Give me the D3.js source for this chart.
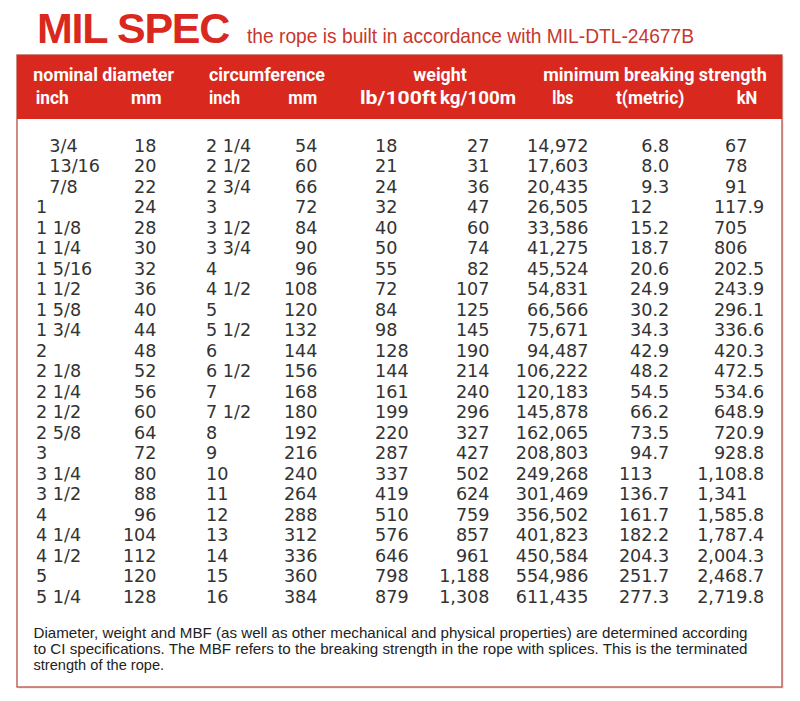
<!DOCTYPE html>
<html>
<head>
<meta charset="utf-8">
<script src="https://cdn.jsdelivr.net/npm/d3@7"></script>
<style>
  html, body { margin: 0; padding: 0; background: #ffffff; }
  svg { display: block; }
</style>
</head>
<body>
<script>
// ---------------- DATA ----------------
const diamInch = ["3/4","13/16","7/8","1","1 1/8","1 1/4","1 5/16","1 1/2","1 5/8","1 3/4","2","2 1/8","2 1/4","2 1/2","2 5/8","3","3 1/4","3 1/2","4","4 1/4","4 1/2","5","5 1/4"];
const diamMm = [18,20,22,24,28,30,32,36,40,44,48,52,56,60,64,72,80,88,96,104,112,120,128];
const circInch = ["2 1/4","2 1/2","2 3/4","3","3 1/2","3 3/4","4","4 1/2","5","5 1/2","6","6 1/2","7","7 1/2","8","9","10","11","12","13","14","15","16"];
const circMm = [54,60,66,72,84,90,96,108,120,132,144,156,168,180,192,216,240,264,288,312,336,360,384];
const weightLb = [18,21,24,32,40,50,55,72,84,98,128,144,161,199,220,287,337,419,510,576,646,798,879];
const weightKg = [27,31,36,47,60,74,82,107,125,145,190,214,240,296,327,427,502,624,759,857,961,1188,1308];
const mbsLbs = [14972,17603,20435,26505,33586,41275,45524,54831,66566,75671,94487,106222,120183,145878,162065,208803,249268,301469,356502,401823,450584,554986,611435];
const mbsT = ["6.8","8.0","9.3","12","15.2","18.7","20.6","24.9","30.2","34.3","42.9","48.2","54.5","66.2","73.5","94.7","113","136.7","161.7","182.2","204.3","251.7","277.3"];
const mbsKn = ["67","78","91","117.9","705","806","202.5","243.9","296.1","336.6","420.3","472.5","534.6","648.9","720.9","928.8","1,108.8","1,341","1,585.8","1,787.4","2,004.3","2,468.7","2,719.8"];

const groupHeaders = ["nominal diameter","circumference","weight","minimum breaking strength"];
const unitHeaders = ["inch","mm","inch","mm","lb/100ft","kg/100m","lbs","t(metric)","kN"];

const titleText = "MIL SPEC";
const subtitleText = "the rope is built in accordance with MIL-DTL-24677B";
const footnoteLines = [
  "Diameter, weight and MBF (as well as other mechanical and physical properties) are determined according",
  "to CI specifications. The MBF refers to the breaking strength in the rope with splices. This is the terminated",
  "strength of the rope."
];

// ---------------- LAYOUT ----------------
const W = 800, H = 701;
const RED = "#d9291f";
const svg = d3.select("body").append("svg").attr("width", W).attr("height", H);

const fmt = d3.format(",");
const rows = d3.range(diamInch.length);
const y = d3.scalePoint().domain(rows).range([151.7, 603]);

// table frame
const box = {x0: 17, x1: 782, y0: 55, yh: 119, y1: 687};
svg.append("rect")
  .attr("x", box.x0 + 1.5).attr("y", box.y0 + 1.5)
  .attr("width", box.x1 - box.x0).attr("height", box.y1 - box.y0)
  .attr("fill", "#e6dcdb");
svg.append("rect")
  .attr("x", box.x0).attr("y", box.y0)
  .attr("width", box.x1 - box.x0).attr("height", box.y1 - box.y0)
  .attr("fill", "#ffffff").attr("stroke", "#bd5a52").attr("stroke-width", 1.4);
svg.append("rect")
  .attr("x", box.x0).attr("y", box.y0)
  .attr("width", box.x1 - box.x0).attr("height", box.yh - box.y0)
  .attr("fill", RED);

// title
svg.append("text")
  .attr("x", 37).attr("y", 43)
  .attr("font-family", "'Liberation Sans', Arial, sans-serif")
  .attr("font-weight", "bold").attr("font-size", 43)
  .attr("letter-spacing", -1.3)
  .attr("fill", RED).text(titleText);
svg.append("text")
  .attr("x", 247).attr("y", 43)
  .attr("font-family", "'Liberation Sans Narrow', 'Liberation Sans', sans-serif")
  .attr("font-size", 21)
  .attr("textLength", 447).attr("lengthAdjust", "spacingAndGlyphs")
  .attr("fill", "#c8372e").text(subtitleText);

// headers
const headFont = "Roboto, 'DejaVu Sans', sans-serif";
const groupX = [33.3, 209, 413.3, 543.3];
const groupW = [140.7, 116, 53.4, 223.4];
svg.selectAll("text.gh").data(groupHeaders).join("text")
  .attr("class", "gh")
  .attr("x", (d, i) => groupX[i]).attr("y", 80.7)
  .attr("font-family", headFont).attr("font-weight", "bold").attr("font-size", 17.5)
  .attr("textLength", (d, i) => groupW[i]).attr("lengthAdjust", "spacingAndGlyphs")
  .attr("fill", "#ffffff").text(d => d);
const unitX = [35.7, 131, 209, 288.3, 360, 440, 552.3, 616, 736.7];
const unitW = [33, 30.7, 31, 29, 76.7, 76, 21, 68.3, 20.6];
svg.selectAll("text.uh").data(unitHeaders).join("text")
  .attr("class", "uh")
  .attr("x", (d, i) => unitX[i]).attr("y", 103.5)
  .attr("font-family", headFont).attr("font-weight", "bold").attr("font-size", 17.5)
  .attr("textLength", (d, i) => unitW[i]).attr("lengthAdjust", "spacingAndGlyphs")
  .attr("fill", "#ffffff").text(d => d);

// body
const body = svg.append("g")
  .attr("font-family", "'DejaVu Sans', Verdana, sans-serif")
  .attr("font-size", 17.6)
  .attr("fill", "#333333");

function col(values, x, anchor, dxFn) {
  body.append("g").selectAll("text").data(values).join("text")
    .attr("x", (d, i) => x + (dxFn ? dxFn(d) : 0))
    .attr("y", (d, i) => y(i))
    .attr("text-anchor", anchor)
    .text(d => d);
}
function decimalCol(values, xDec) {
  const g = body.append("g");
  g.selectAll("text.int").data(values).join("text")
    .attr("class", "int")
    .attr("x", xDec).attr("y", (d, i) => y(i))
    .attr("text-anchor", "end")
    .text(d => d.split(".")[0]);
  g.selectAll("text.frac").data(values.filter(d => d.includes(".")).map(d => d))
    .join("text")
    .attr("class", "frac")
    .attr("x", xDec)
    .attr("y", d => y(values.indexOf(d)))
    .attr("text-anchor", "start")
    .text(d => "." + d.split(".")[1]);
}

col(diamInch, 36, "start", d => d.includes(" ") || !d.includes("/") ? 0 : 13.3);
col(diamMm, 156.5, "end");
col(circInch, 206, "start");
col(circMm, 317.5, "end");
col(weightLb, 375, "start");
col(weightKg.map(fmt), 489.5, "end");
col(mbsLbs.map(fmt), 588.5, "end");
decimalCol(mbsT, 652.5);
decimalCol(mbsKn, 747.5);

// footnote
svg.append("g").selectAll("text").data(footnoteLines).join("text")
  .attr("x", 33.5).attr("y", (d, i) => 637.7 + i * 16)
  .attr("font-family", "'Liberation Sans', Arial, sans-serif")
  .attr("font-size", 14.6)
  .attr("fill", "#222222")
  .attr("textLength", (d, i) => i < 2 ? 714 : null)
  .attr("lengthAdjust", "spacingAndGlyphs")
  .text(d => d);
</script>
</body>
</html>
